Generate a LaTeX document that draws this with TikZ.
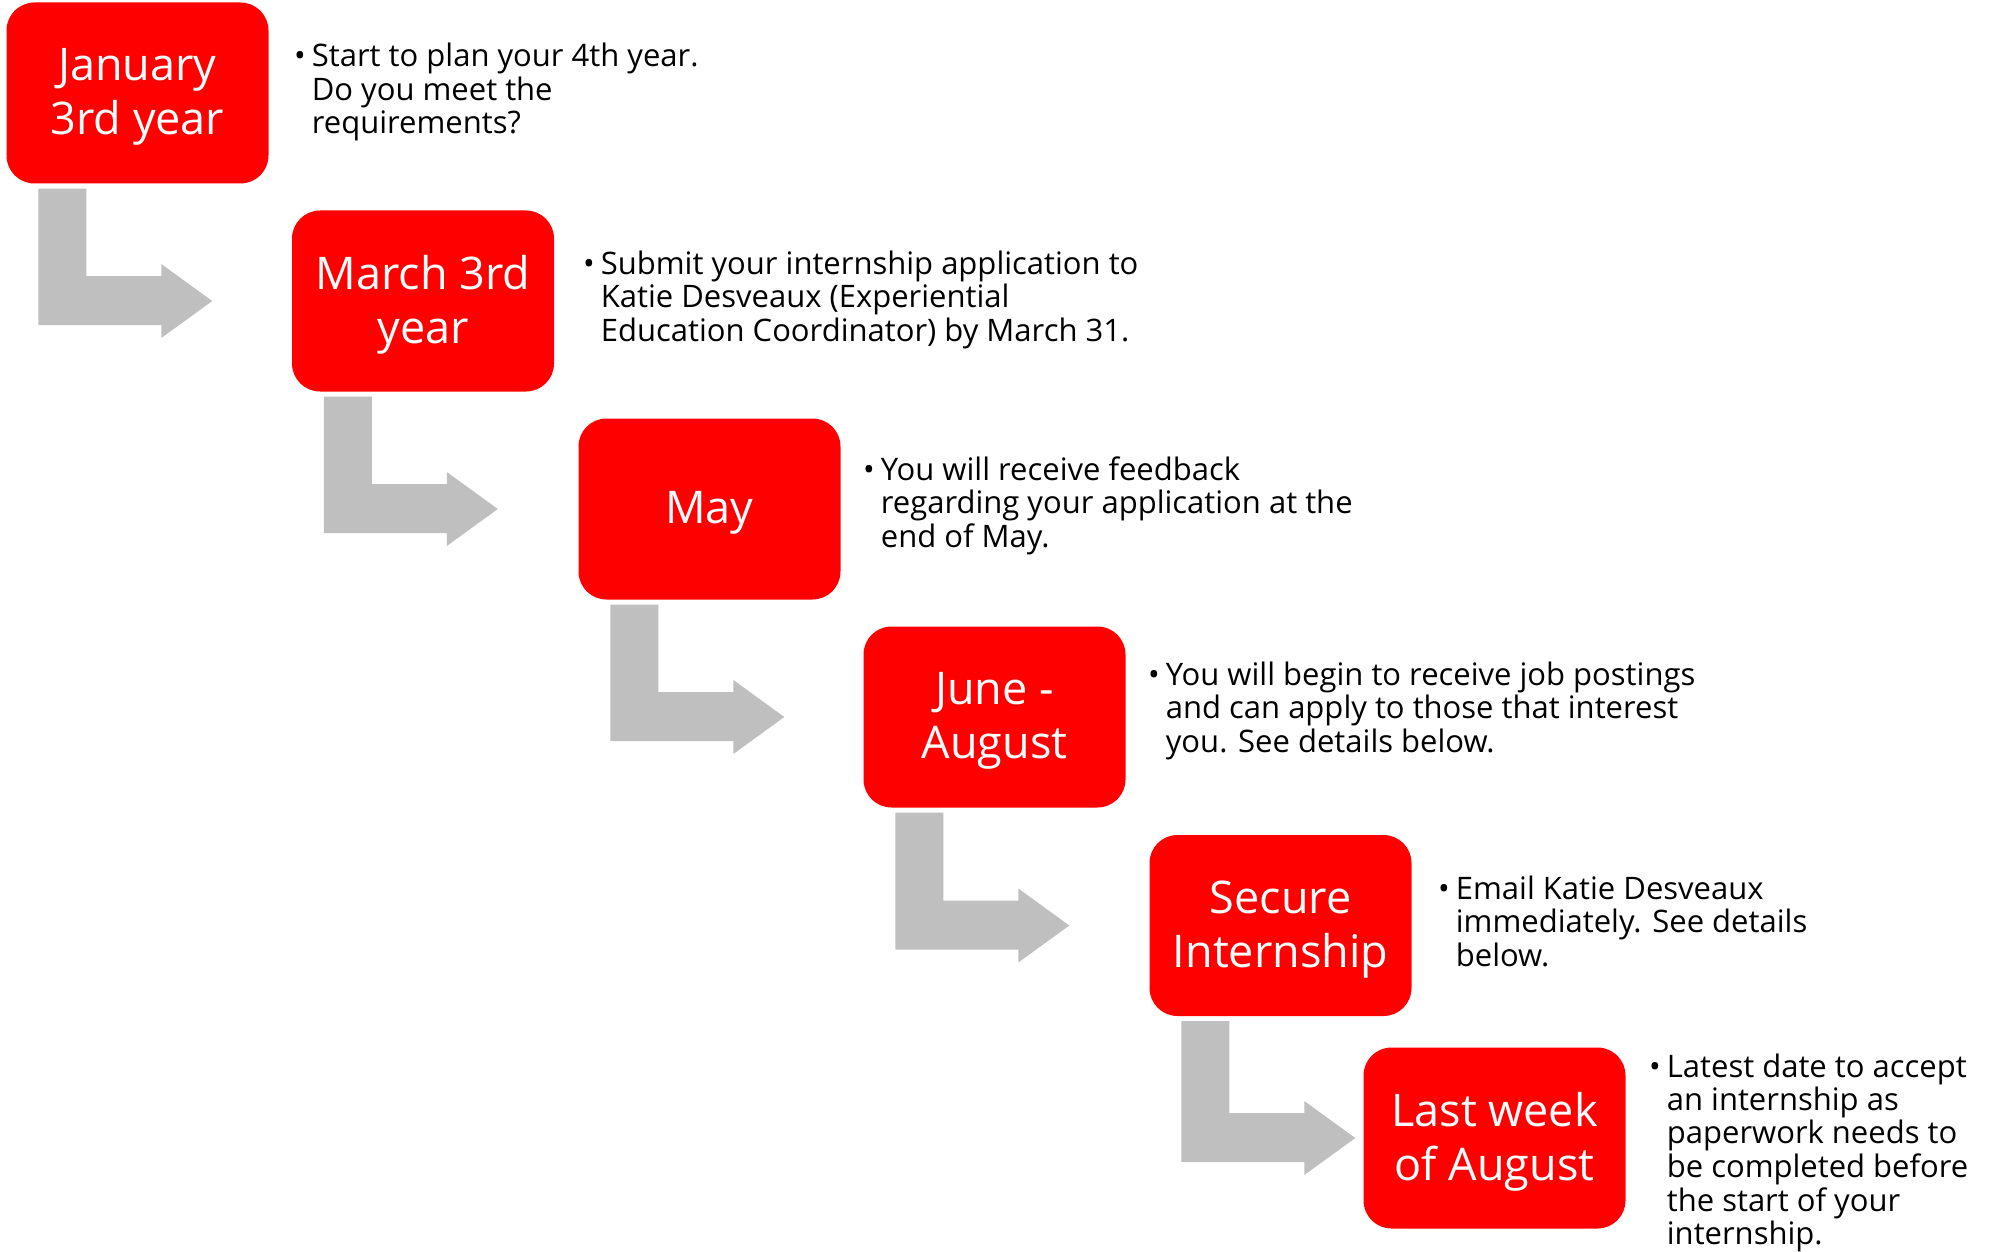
\documentclass[tikz,border=0pt]{standalone}
\usepackage{fontspec}
\setmainfont{Open Sans}
\usetikzlibrary{calc}
\definecolor{boxred}{HTML}{FF0000}
\definecolor{arrowgray}{HTML}{BFBFBF}
\tikzset{
  stepbox/.style={fill=boxred, rounded corners=28pt, minimum width=262pt, minimum height=181pt,
    inner sep=0pt},
  boxtext/.style={align=center, text=white, font=\fontsize{45}{54}\selectfont, yshift=-4pt, inner sep=0pt},
  desc/.style={anchor=west, inner sep=0pt, align=left, font=\fontsize{31}{33}\selectfont}
}
\newcommand{\garrow}[2]{%
  \fill[arrowgray] let \p1=(#1.south west), \p2=(#2.center) in
    (\x1+32pt,\y1-5pt) -- (\x1+80pt,\y1-5pt) -- (\x1+80pt,\y2+25pt) -- (\x1+155pt,\y2+25pt)
    -- (\x1+155pt,\y2+37pt) -- (\x1+206pt,\y2) -- (\x1+155pt,\y2-37pt) -- (\x1+155pt,\y2-24pt)
    -- (\x1+32pt,\y2-24pt) -- cycle;}
\newcommand{\bul}[1]{\begin{tabular}{@{}l@{\hspace{6pt}}l@{}}\textbullet & #1\end{tabular}}
\begin{document}
\begin{tikzpicture}[x=1pt,y=-1pt]
\useasboundingbox (0,0) rectangle (2007,1252);
\node[stepbox, label={[boxtext]center:January\\3rd year}] (b1) at (137.5,93) {};
\node[stepbox, label={[boxtext]center:March 3rd\\year}] (b2) at (423,301) {};
\node[stepbox, label={[boxtext]center:May}] (b3) at (709.5,509) {};
\node[stepbox, label={[boxtext]center:June -\\August}] (b4) at (994.5,717) {};
\node[stepbox, label={[boxtext]center:Secure\\Internship}] (b5) at (1280.5,925.5) {};
\node[stepbox, label={[boxtext]center:Last week\\of August}] (b6) at (1494.5,1138) {};
\garrow{b1}{b2}
\garrow{b2}{b3}
\garrow{b3}{b4}
\garrow{b4}{b5}
\garrow{b5}{b6}
\node[desc] (t1) at (294,93) {\bul{Start to plan your 4th year.\\ & Do you meet the\\ & requirements?}};
\node[desc] (t2) at (583,301) {\bul{Submit your internship application to\\ & Katie Desveaux (Experiential\\ & Education Coordinator) by March 31.}};
\node[desc] (t3) at (863,507) {\bul{You will receive feedback\\ & regarding your application at the\\ & end of May.}};
\node[desc] (t4) at (1148,712) {\bul{You will begin to receive job postings\\ & and can apply to those that interest\\ & you. See details below.}};
\node[desc] (t5) at (1438,926) {\bul{Email Katie Desveaux\\ & immediately. See details\\ & below.}};
\node[desc] (t6) at (1649,1154) {\bul{Latest date to accept\\ & an internship as\\ & paperwork needs to\\ & be completed before\\ & the start of your\\ & internship.}};
\end{tikzpicture}
\end{document}
